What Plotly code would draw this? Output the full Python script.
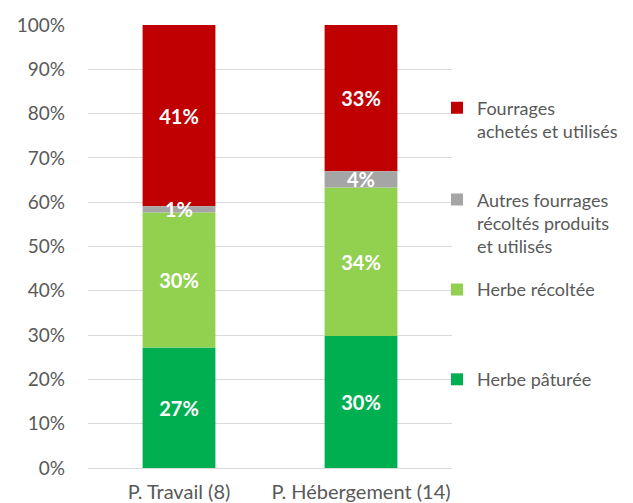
import plotly.graph_objects as go

categories = ["P. Travail (8)", "P. Hébergement (14)"]
name_paturee = "Herbe pâturée"
name_recoltee = "Herbe récoltée"
name_autres = "Autres fourrages<br>récoltés produits<br>et utilisés"
name_achetes = "Fourrages<br>achetés et utilisés"

herbe_paturee = [27.2, 29.8]
herbe_recoltee = [30.5, 33.5]
autres_fourrages = [1.4, 3.7]
fourrages_achetes = [40.9, 33.0]

labels_paturee = ["27%", "30%"]
labels_recoltee = ["30%", "34%"]
labels_autres = ["1%", "4%"]
labels_achetes = ["41%", "33%"]

# stacking bases derived from the data
base_paturee = [0, 0]
base_recoltee = [a for a in herbe_paturee]
base_autres = [a + b for a, b in zip(herbe_paturee, herbe_recoltee)]
base_achetes = [a + b + c for a, b, c in zip(herbe_paturee, herbe_recoltee, autres_fourrages)]

FONT = "Lato"
GREY = "#595959"

# draw order: grey last so its label stays on top
traces = [
    (name_paturee, herbe_paturee, base_paturee, labels_paturee, "#00B050", "legend4"),
    (name_recoltee, herbe_recoltee, base_recoltee, labels_recoltee, "#92D050", "legend3"),
    (name_achetes, fourrages_achetes, base_achetes, labels_achetes, "#C00000", "legend"),
    (name_autres, autres_fourrages, base_autres, labels_autres, "#A5A5A5", "legend2"),
]

fig = go.Figure()
for name, vals, base, txt, col, lg in traces:
    fig.add_trace(go.Bar(
        x=categories, y=vals, base=base, name=name, text=txt,
        textposition="inside", insidetextanchor="middle",
        textfont=dict(family=FONT, size=20, color="white", weight="bold"),
        marker=dict(color=col, line=dict(width=0)),
        legend=lg, showlegend=True,
    ))

# page body has an 8px margin, so the figure is sized to the visible area
OFF = 8
W, H = 633 - OFF, 503 - OFF
PL, PR, PT, PB = 88 - OFF, 452 - OFF, 24.5 - OFF, 468 - OFF  # plot area in figure px
ph = PB - PT
pw = PR - PL


def ly(screen_y):
    return (PB - (screen_y - OFF)) / ph


def lx(screen_x):
    return ((screen_x - OFF) - PL) / pw


leg_common = dict(font=dict(family=FONT, size=18, color=GREY), bgcolor="rgba(0,0,0,0)",
                  xanchor="left", yanchor="top", valign="top", itemwidth=30,
                  tracegroupgap=0)
legend_x = lx(437)

fig.update_layout(
    width=W, height=H,
    barmode="overlay", bargap=0.6,
    showlegend=True,
    margin=dict(l=PL, r=W - PR, t=PT, b=H - PB, autoexpand=False),
    plot_bgcolor="white", paper_bgcolor="white",
    font=dict(family=FONT, color=GREY),
    uniformtext=dict(minsize=20, mode="show"),
    legend=dict(x=legend_x, y=ly(89), **leg_common),
    legend2=dict(x=legend_x, y=ly(181), **leg_common),
    legend3=dict(x=legend_x, y=ly(271), **leg_common),
    legend4=dict(x=legend_x, y=ly(361), **leg_common),
    yaxis=dict(range=[0, 100], dtick=10, ticksuffix="%", showgrid=True,
               gridcolor="#D9D9D9", gridwidth=1.3, zeroline=False,
               tickfont=dict(family=FONT, size=19, color=GREY),
               ticklabelstandoff=22, fixedrange=True),
    xaxis=dict(showline=True, linecolor="#D9D9D9", linewidth=1.3,
               tickfont=dict(family=FONT, size=20, color=GREY), ticks="",
               ticklabelstandoff=6),
)

fig.write_html("out.html")
